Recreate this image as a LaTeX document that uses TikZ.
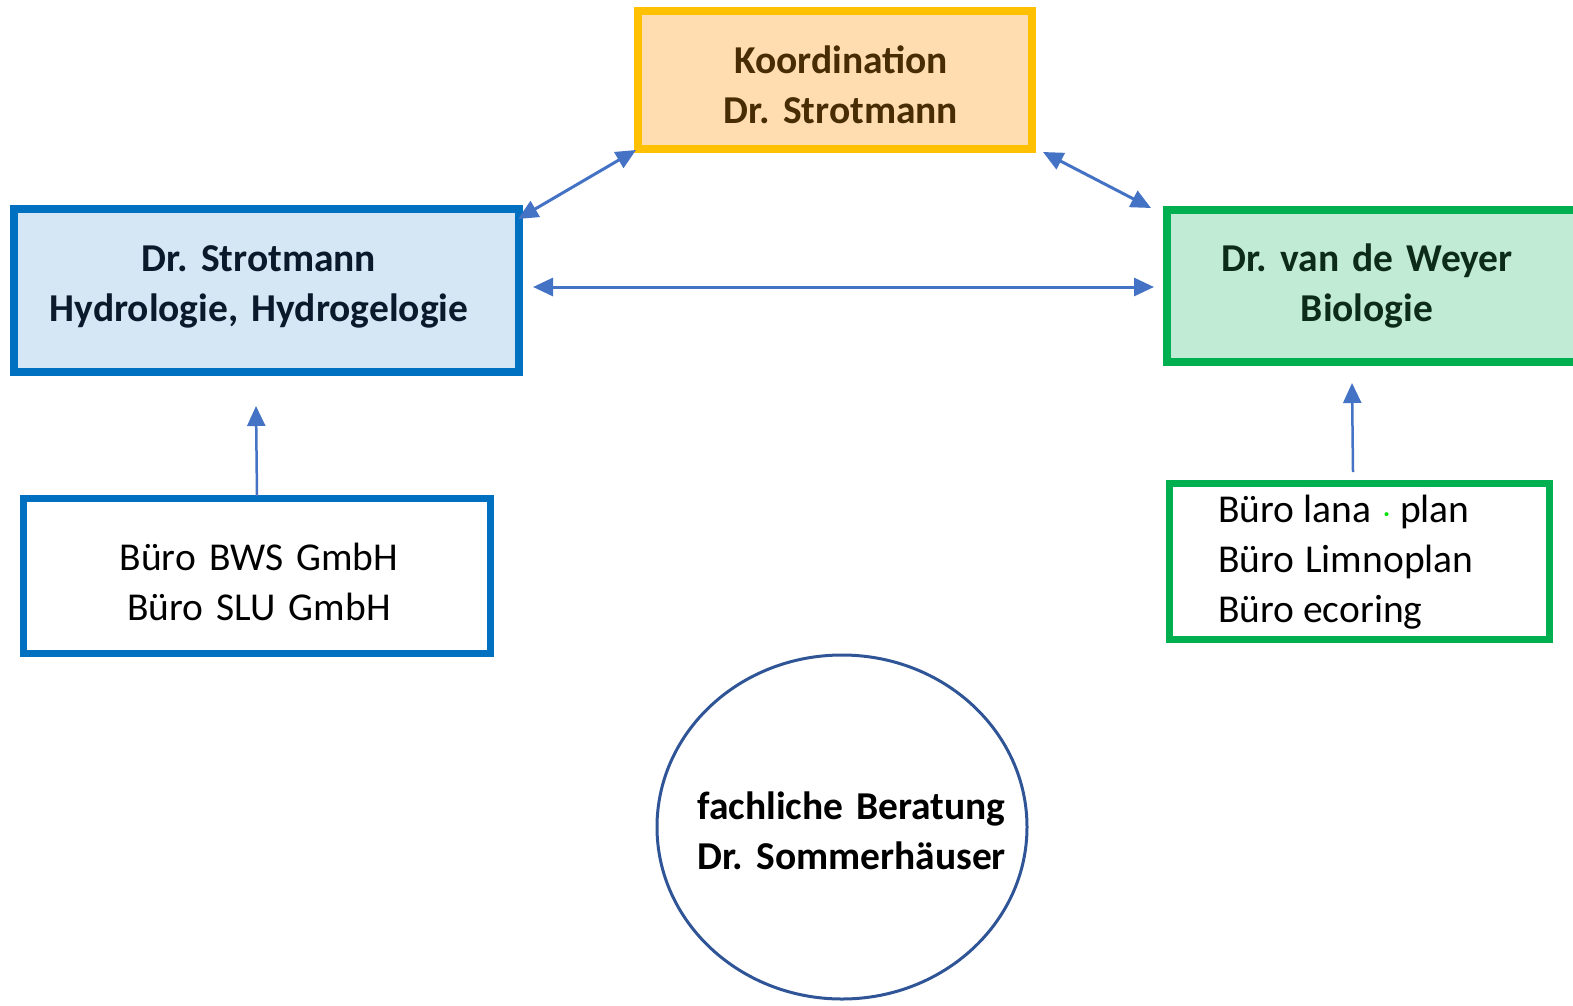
\documentclass[tikz,border=0pt]{standalone}
\usepackage{fontspec}
\setmainfont{Carlito}
\usetikzlibrary{arrows.meta,shapes.geometric}
\definecolor{orfill}{HTML}{FFDDB0}
\definecolor{orline}{HTML}{FFC000}
\definecolor{ortext}{HTML}{472C04}
\definecolor{blfill}{HTML}{D5E6F5}
\definecolor{blline}{HTML}{0070C0}
\definecolor{bltext}{HTML}{0B192C}
\definecolor{grfill}{HTML}{C1EBD4}
\definecolor{grline}{HTML}{00B050}
\definecolor{grtext}{HTML}{0C2C19}
\definecolor{arrowc}{HTML}{4472C4}
\definecolor{circc}{HTML}{2F5597}
\definecolor{dotgreen}{HTML}{00E000}
\frenchspacing
\begin{document}
\begin{tikzpicture}[x=1pt,y=-1pt,
  box/.style={draw,rectangle,inner sep=0pt},
  btxt/.style={align=center,inner sep=0pt,font=\fontsize{39.5}{50}\selectfont\bfseries},
  ntxt/.style={inner sep=0pt,font=\fontsize{39.5}{50}\selectfont},
  conn/.style={draw=arrowc,line width=3pt,{Triangle[length=20pt,width=18pt]}-{Triangle[length=20pt,width=18pt]}},
  conn1/.style={draw=arrowc,line width=2.5pt,-{Triangle[length=20pt,width=18pt]}}]
\useasboundingbox (0,0) rectangle (1573,1005);
% boxes
\node[box,fill=orfill,draw=orline,line width=8pt,minimum width=394pt,minimum height=138pt] (koord) at (835,80) {};
\node[btxt,text=ortext,text width=400pt] (koordt) at (841,85) {Koordination\\Dr. Strotmann};
\node[box,fill=blfill,draw=blline,line width=8pt,minimum width=505pt,minimum height=163pt] (hydro) at (266.5,290.5) {};
\node[btxt,text=bltext,text width=500pt] (hydrot) at (259,287) {Dr. Strotmann\\Hydrologie, Hydrogelogie};
\node[box,fill=grfill,draw=grline,line width=8pt,minimum width=420pt,minimum height=152pt] (bio) at (1377,286) {};
\node[btxt,text=grtext,text width=400pt] (biot) at (1367,286) {Dr. van de Weyer\\Biologie};
\node[box,fill=white,draw=blline,line width=7pt,minimum width=467pt,minimum height=155pt] (bws) at (257,576) {};
\node[ntxt,align=center,text width=400pt] (bwst) at (259,582) {Büro BWS GmbH\\Büro SLU GmbH};
\node[box,fill=white,draw=grline,line width=7pt,minimum width=380pt,minimum height=156pt] (lana) at (1359.5,561.5) {};
\node[ntxt,align=left,anchor=west] (lanat) at (1218,562) {Büro lana\hspace{12pt}{\color{dotgreen}\fontsize{28}{28}\selectfont·}\hspace{10pt}plan\\Büro\kern2pt\ Limnoplan\\Büro ecoring};
\node[draw=circc,line width=3pt,ellipse,minimum width=370pt,minimum height=344pt,inner sep=0pt] (circ) at (842,827) {};
\node[btxt,align=left,anchor=west,text width=330pt,text=black] (circt) at (697,831) {fachliche Beratung\\Dr. Sommerhäuser};
% connector end points
\coordinate (a1s) at (518,219);
\coordinate (a1e) at (636,150);
\coordinate (a2s) at (1043,152);
\coordinate (a2e) at (1151,208);
\coordinate (a3s) at (533,287);
\coordinate (a3e) at (1154,287);
\coordinate (a4s) at (257,496);
\coordinate (a4e) at (256,406);
\coordinate (a5s) at (1353,472);
\coordinate (a5e) at (1352,383);
\draw[conn] (a1s) -- (a1e);
\draw[conn] (a2s) -- (a2e);
\draw[conn] (a3s) -- (a3e);
\draw[conn1] (a4s) -- (a4e);
\draw[conn1] (a5s) -- (a5e);
\end{tikzpicture}
\end{document}
